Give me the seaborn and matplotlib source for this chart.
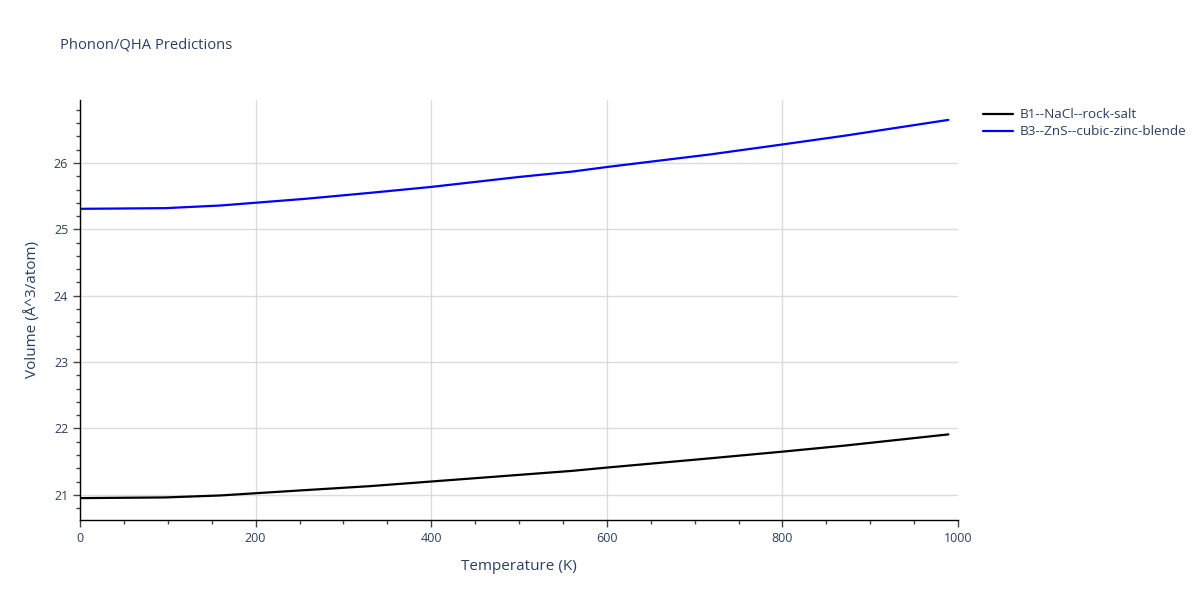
import numpy as np
import pandas as pd
import matplotlib
matplotlib.use("Agg")
import matplotlib.pyplot as plt
import matplotlib.ticker as mticker
import seaborn as sns

temperature = [0, 97, 160, 256, 330, 400, 500, 560, 600, 718, 800, 870, 989]
vol_nacl = [20.95, 20.96, 20.99, 21.07, 21.13, 21.20, 21.30, 21.36, 21.41, 21.55, 21.65, 21.74, 21.91]
vol_zns = [25.31, 25.32, 25.36, 25.46, 25.55, 25.64, 25.79, 25.87, 25.94, 26.13, 26.28, 26.41, 26.65]
names = ["B1--NaCl--rock-salt", "B3--ZnS--cubic-zinc-blende"]
colors = ["black", "blue"]

df = pd.concat([
    pd.DataFrame({"T": temperature, "V": vol_nacl, "structure": names[0]}),
    pd.DataFrame({"T": temperature, "V": vol_zns, "structure": names[1]}),
])

sns.set_style("white")
plt.rcParams["font.family"] = ["Open Sans", "DejaVu Sans"]
TXT = "#2a3f5f"

fig = plt.figure(figsize=(12, 6), dpi=100)
ax = fig.add_axes([80 / 1200, 80 / 600, 878 / 1200, 420 / 600])

sns.lineplot(data=df, x="T", y="V", hue="structure", palette=colors,
             linewidth=1.6, ax=ax, legend=False, sort=False)

ax.set_xlim(0, 1000)
ax.set_ylim(20.62, 26.95)
ax.xaxis.set_major_locator(mticker.FixedLocator([0, 200, 400, 600, 800]))
ax.xaxis.set_minor_locator(mticker.MultipleLocator(50))
ax.yaxis.set_major_locator(mticker.MultipleLocator(1))
ax.yaxis.set_minor_locator(mticker.MultipleLocator(0.2))
ax.grid(True, which="major", color="#dcdcdc", linewidth=1)
ax.set_axisbelow(True)
for s in ["top", "right"]:
    ax.spines[s].set_visible(False)
for s in ["left", "bottom"]:
    ax.spines[s].set_color("black")
    ax.spines[s].set_linewidth(1)
ax.tick_params(which="major", direction="out", length=5, width=1, color="#444",
               labelsize=9, labelcolor=TXT, left=True, bottom=True)
ax.tick_params(which="minor", direction="out", length=3, width=1, color="#444",
               left=True, bottom=True)
# tick label 1000 without gridline
ax.set_xticks([0, 200, 400, 600, 800, 1000])
ax.get_xgridlines()[-1].set_visible(False)
ax.set_xlabel("Temperature (K)", fontsize=11, color=TXT, labelpad=10)
ax.set_ylabel("Volume (Å^3/atom)", fontsize=11, color=TXT, labelpad=10)

fig.text(60 / 1200, 1 - 45 / 600, "Phonon/QHA Predictions", fontsize=10.6,
         color=TXT, va="center", ha="left")

handles = [plt.Line2D([0], [0], color=c, linewidth=1.6) for c in colors]
fig.legend(handles, names, loc="upper left", bbox_to_anchor=(978 / 1200, 1 - 103 / 600),
           frameon=False, fontsize=9.7, labelcolor=TXT, handlelength=2.2,
           handletextpad=0.5, labelspacing=0.3, borderaxespad=0)

fig.savefig("out.png", dpi=100)
